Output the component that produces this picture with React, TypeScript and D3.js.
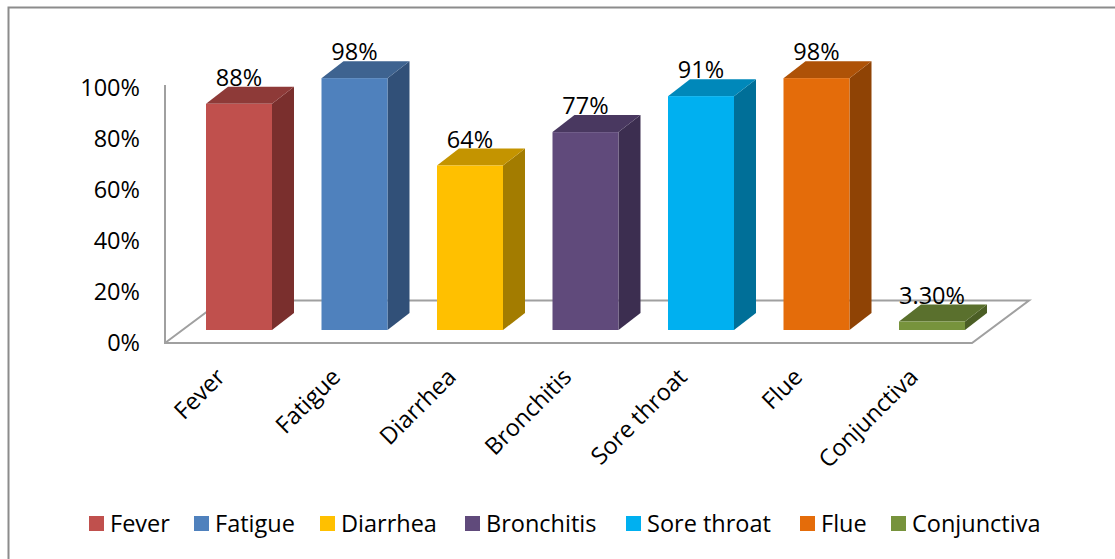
import React from "react";
import * as d3 from "d3";

const categories = ["Fever", "Fatigue", "Diarrhea", "Bronchitis", "Sore throat", "Flue", "Conjunctiva"];
const values = [88, 98, 64, 77, 91, 98, 3.3];
const valueLabels = ["88%", "98%", "64%", "77%", "91%", "98%", "3.30%"];
const frontColors = ["#c0504d", "#4f81bd", "#ffc000", "#604a7b", "#00b0f0", "#e46c0a", "#77933c"];
const topColors = ["#8e3a38", "#3e6390", "#c49400", "#493860", "#0088ba", "#ae5207", "#5a702d"];
const sideColors = ["#7a2f2d", "#315078", "#a37c00", "#3c2e50", "#006f98", "#8f4305", "#4b5e25"];
const yTicks = [0, 20, 40, 60, 80, 100];
const legendX = [89, 194, 320, 465, 626, 800, 891];

const FONT = "'Open Sans', 'Noto Sans', sans-serif";
const FONT_SIZE = 23.5;
const DEPTH_X = 22;
const DEPTH_Y = 17;
const BAR_W = 66;

export default function App() {
  const barY = d3.scaleLinear().domain([0, 100]).range([330, 73]);
  const axisY = d3.scaleLinear().domain([0, 100]).range([342, 87]);
  const x = d3.scalePoint<string>().domain(categories).range([206, 899]);
  const poly = d3.line();

  return (
    <svg width={1115} height={559} style={{ position: "absolute", left: 0, top: 0, background: "#fff" }} fontFamily={FONT}>
      <path d="M8.5 569V7.5H1115" fill="none" stroke="#8c8c8c" strokeWidth={2} />

      {/* chart floor and the vertical axis */}
      <path d="M165 85V343H972L1029 300.5H222L165 343" fill="none" stroke="#a0a0a0" strokeWidth={2} />

      {yTicks.map((t) => (
        <text key={t} x={140} y={axisY(t) + 8.5} textAnchor="end" fontSize={FONT_SIZE} fill="#000">
          {t}%
        </text>
      ))}

      {categories.map((c, i) => {
        const x0 = x(c)!;
        const x1 = x0 + BAR_W;
        const yTop = barY(values[i]);
        const yBase = barY(0);
        return (
          <g key={c}>
            <path
              d={poly([[x1, yTop], [x1 + DEPTH_X, yTop - DEPTH_Y], [x1 + DEPTH_X, yBase - DEPTH_Y], [x1, yBase]])!}
              fill={sideColors[i]}
            />
            <path
              d={poly([[x0, yTop], [x0 + DEPTH_X, yTop - DEPTH_Y], [x1 + DEPTH_X, yTop - DEPTH_Y], [x1, yTop]])!}
              fill={topColors[i]}
            />
            <rect x={x0} y={yTop} width={BAR_W} height={yBase - yTop} fill={frontColors[i]} />
            <text x={x0 + BAR_W / 2} y={yTop - 18} textAnchor="middle" fontSize={FONT_SIZE} fill="#000">
              {valueLabels[i]}
            </text>
            <text
              transform={`translate(${x0 + 16},374) rotate(-45)`}
              textAnchor="end"
              dominantBaseline="middle"
              fontSize={FONT_SIZE}
              fill="#000"
            >
              {c}
            </text>
          </g>
        );
      })}

      {categories.map((c, i) => (
        <g key={c}>
          <rect x={legendX[i]} y={516} width={15} height={15} fill={frontColors[i]} />
          <text x={legendX[i] + 21} y={532} fontSize={FONT_SIZE} fill="#000">
            {c}
          </text>
        </g>
      ))}
    </svg>
  );
}
